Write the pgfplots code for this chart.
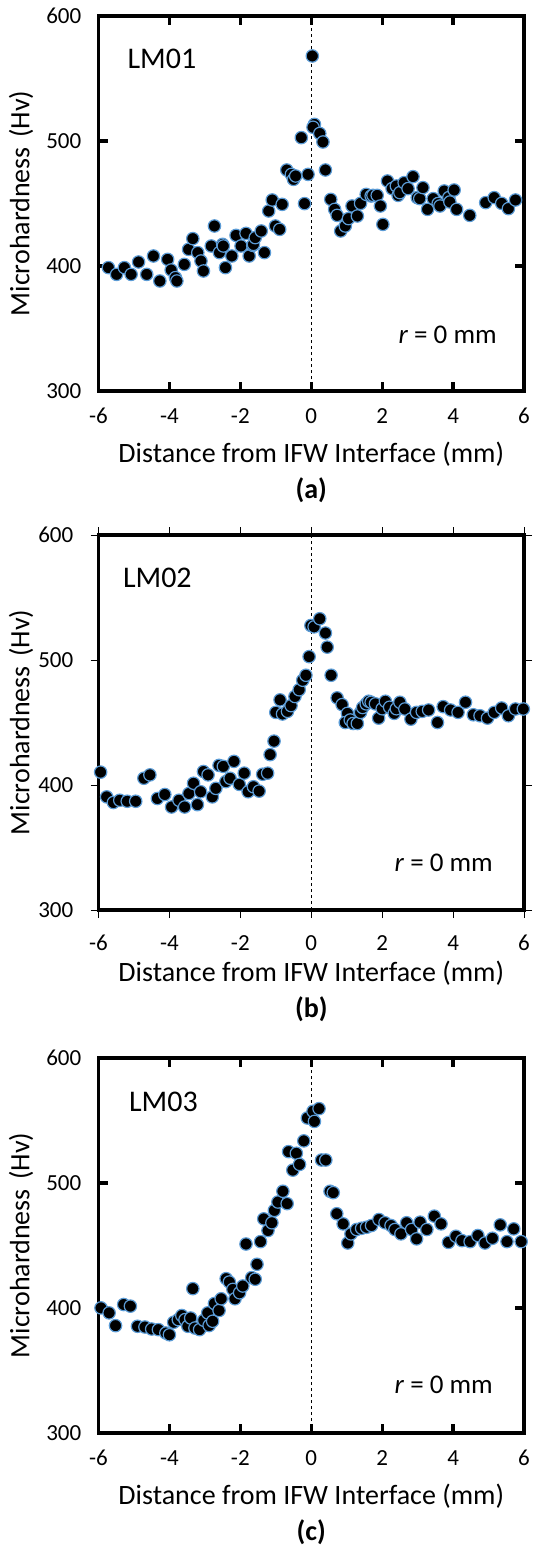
\documentclass[border=0pt]{standalone}
\usepackage{fontspec}
\setmainfont{Carlito}
\usepackage{pgfplots}
\pgfplotsset{compat=1.18}
\definecolor{mkedge}{RGB}{91,155,213}
\pgfplotsset{
  panel/.style={
    scale only axis, width=212.75pt, height=187.5pt,
    xmin=-6, xmax=6, ymin=300, ymax=600,
    xtick={-6,-4,-2,0,2,4,6}, ytick={300,400,500,600},
    axis line style={line width=1.6pt},
    tick style={line width=1.6pt, black},
    major tick length=4.5pt,
    tick align=inside,
    /pgf/number format/assume math mode=true,
    ticklabel style={font=\fontsize{11.5}{13}\selectfont, inner sep=0pt},
    xticklabel style={anchor=center, yshift=-12.5pt},
    yticklabel style={anchor=east, xshift=-8.4pt},
    xlabel={Distance from IFW Interface (mm)},
    ylabel={Microhardness\,\,(Hv)},
    x label style={at={(axis description cs:0.5,0)}, anchor=center, yshift=-31.5pt, font=\fontsize{14}{16}\selectfont},
    y label style={at={(axis description cs:-0.182,0.5)}, anchor=center, font=\fontsize{14}{16}\selectfont},
    clip=false,
  },
  pts/.style={only marks, mark=*, mark size=3.1pt, mark options={fill=black, draw=mkedge, line width=0.6pt}},
  zeroline/.style={black, line width=0.5pt, dash pattern=on 1.5pt off 1.5pt, forget plot},
}
\begin{document}
\begin{tikzpicture}
\useasboundingbox (0,0) rectangle (266.5pt,-772.5pt);
% ---------------- (a) ----------------
\begin{axis}[panel, at={(49.25pt,-195.5pt)}, anchor=south west]
\addplot[zeroline] coordinates {(0,300) (0,600)};
\addplot[pts] coordinates {
(-5.72,398.7)(-5.49,393.3)(-5.27,398.7)(-5.08,393.3)(-4.87,403.2)(-4.64,393.3)(-4.45,408)(-4.27,388)
(-4.05,405.3)(-3.95,396.8)(-3.83,390.7)(-3.79,388)(-3.58,401.3)(-3.46,413.3)(-3.34,421.9)(-3.20,410.7)
(-3.11,404)(-3.04,396)(-2.82,416)(-2.73,432)(-2.59,410.7)(-2.50,417.3)(-2.48,416)(-2.42,398.7)(-2.24,408)
(-2.12,424.5)(-1.98,416)(-1.84,426.1)(-1.75,408)(-1.65,416.5)(-1.63,417.3)(-1.58,422.7)(-1.41,428)(-1.32,410.7)
(-1.20,444)(-1.10,452.8)(-1.01,432)(-0.89,429.3)(-0.82,449.3)(-0.69,476.8)(-0.56,473.3)(-0.50,469.3)(-0.44,472)
(-0.28,502.7)(-0.19,449.9)(-0.09,473.3)(0.03,568)(0.09,513.3)(0.05,511)(0.24,506)(0.33,499.2)(0.40,476.8)
(0.55,453.3)(0.66,445.3)(0.73,440.5)(0.83,428)(0.96,432)(1.05,437.9)(1.15,448)(1.30,440)(1.39,450.1)
(1.55,457.3)(1.69,456)(1.74,456.5)(1.86,456.5)(1.95,448)(2.02,433.3)(2.15,468)(2.28,461.9)(2.40,464)(2.45,456.5)
(2.50,458.7)(2.62,466.7)(2.73,461.9)(2.87,471.5)(2.99,454.7)(3.06,453.9)(3.15,462.7)(3.28,445.3)(3.44,453.9)
(3.58,450)(3.63,448)(3.75,460)(3.88,454.7)(3.91,451.2)(4.03,460.8)(4.10,445.3)(4.47,440.5)(4.92,450.7)
(5.16,454.7)(5.37,450.1)(5.56,445.9)(5.76,452.8)
};
\node[anchor=west, inner sep=0pt, font=\fontsize{15}{17}\selectfont] at (axis cs:-5.19,566) {LM01};
\node[anchor=east, inner sep=0pt, font=\fontsize{13.5}{15}\selectfont] at (axis cs:5.24,344.7) {\textit{r} = 0 mm};
\node[font=\bfseries\fontsize{14}{16}\selectfont, yshift=-49.5pt] at (axis description cs:0.5,0) {(a)};
\end{axis}
% ---------------- (b) ----------------
\begin{axis}[panel, at={(49.25pt,-455pt)}, anchor=south west,
  tick align=outside, tick style={line width=0.5pt, black}, major tick length=4pt]
\addplot[zeroline] coordinates {(0,300) (0,600)};
\addplot[pts] coordinates {
(-5.94,410.3)(-5.77,390.5)(-5.58,386)(-5.40,387.8)(-5.19,387)(-4.95,387)(-4.72,405.4)(-4.55,408.1)
(-4.34,389.2)(-4.13,392.4)(-3.94,382.4)(-3.73,387.8)(-3.57,382.4)(-3.45,393.2)(-3.32,401.4)(-3.21,384.3)
(-3.12,394.6)(-3.04,410.8)(-2.91,408.1)(-2.79,390.5)(-2.69,397.3)(-2.60,415.7)(-2.48,414.9)(-2.41,402.7)
(-2.29,405.4)(-2.18,418.9)(-2.03,400.5)(-1.89,409.5)(-1.78,394.6)(-1.63,398.6)(-1.47,395.1)(-1.37,408.6)
(-1.23,409.5)(-1.16,424.3)(-1.05,435.1)(-1.00,458.1)(-0.88,468.1)(-0.81,456.8)(-0.67,458.9)(-0.57,463.5)
(-0.46,470.8)(-0.34,476.2)(-0.24,483.8)(-0.15,487.8)(-0.06,502.7)(-0.01,527.6)(0.08,526.5)(0.24,533)
(0.40,521.6)(0.45,510.3)(0.56,487.8)(0.73,469.7)(0.87,464.3)(1.02,457.3)(0.96,450)(1.10,452)(1.18,449.2)
(1.30,449.2)(1.39,458.1)(1.45,462)(1.55,464.9)(1.62,467)(1.69,466.2)(1.81,464.9)(1.90,453.5)(2.00,461)
(2.09,467)(2.21,462.2)(2.34,457.3)(2.40,461)(2.50,466.2)(2.64,460.8)(2.81,452.7)(2.97,458.1)(3.13,458.9)
(3.31,460)(3.56,450)(3.72,462.7)(3.93,460)(4.14,458.1)(4.35,466.2)(4.57,456.2)(4.76,455.4)(4.97,453.5)
(5.16,458.1)(5.37,461.6)(5.56,455.4)(5.76,460.8)(5.98,460.8)
};
\node[anchor=west, inner sep=0pt, font=\fontsize{15}{17}\selectfont] at (axis cs:-5.32,565.5) {LM02};
\node[anchor=east, inner sep=0pt, font=\fontsize{13.5}{15}\selectfont] at (axis cs:5.13,337.8) {\textit{r} = 0 mm};
\node[font=\bfseries\fontsize{14}{16}\selectfont, yshift=-49.5pt] at (axis description cs:0.5,0) {(b)};
\end{axis}
% ---------------- (c) ----------------
\begin{axis}[panel, at={(49.25pt,-716.5pt)}, anchor=south west]
\addplot[zeroline] coordinates {(0,300) (0,600)};
\addplot[pts] coordinates {
(-5.93,400.1)(-5.70,396.1)(-5.52,385.9)(-5.29,402.8)(-5.10,401.5)(-4.90,385.4)(-4.69,384.8)(-4.50,383.2)
(-4.31,382.7)(-4.10,380)(-4.00,378.6)(-3.88,388.6)(-3.75,390.7)(-3.65,394)(-3.56,390.7)(-3.48,385.4)
(-3.40,392)(-3.34,415.5)(-3.28,384)(-3.15,382.7)(-3.03,390.2)(-2.92,396.1)(-2.88,386)(-2.78,389.4)
(-2.73,403.6)(-2.60,398)(-2.54,407.4)(-2.40,423.5)(-2.31,420.8)(-2.21,414.9)(-2.15,407.4)(-2.02,412.2)
(-1.93,417.6)(-1.84,451.2)(-1.68,424.3)(-1.58,423)(-1.53,435)(-1.43,453.1)(-1.34,471.3)(-1.22,462)
(-1.11,468.2)(-1.04,478.1)(-0.94,484.8)(-0.80,493.4)(-0.68,483.5)(-0.64,525.1)(-0.52,510.3)(-0.42,523.8)
(-0.33,514.9)(-0.21,533.7)(-0.11,552)(0.05,557.4)(0.09,549.3)(0.22,559.5)(0.29,518.4)(0.41,518.4)
(0.53,493.4)(0.62,492.3)(0.72,475.4)(0.90,467.3)(1.03,452)(1.12,459.3)(1.28,462.8)(1.42,463.8)
(1.56,464.6)(1.70,466)(1.91,470.8)(2.08,468.2)(2.25,466)(2.36,462.8)(2.53,459.3)(2.69,468.2)(2.83,462.8)
(2.97,455.3)(3.07,468.7)(3.26,462.8)(3.47,473.5)(3.66,467.3)(3.87,452.5)(4.08,457.4)(4.25,453.9)
(4.48,453.1)(4.70,458)(4.90,452)(5.11,455.8)(5.33,466.5)(5.52,453.1)(5.71,463.3)(5.92,453.1)
};
\node[anchor=west, inner sep=0pt, font=\fontsize{15}{17}\selectfont] at (axis cs:-5.15,564.8) {LM03};
\node[anchor=east, inner sep=0pt, font=\fontsize{13.5}{15}\selectfont] at (axis cs:5.13,338.3) {\textit{r} = 0 mm};
\node[font=\bfseries\fontsize{14}{16}\selectfont, yshift=-49.5pt] at (axis description cs:0.5,0) {(c)};
\end{axis}
\end{tikzpicture}
\end{document}
